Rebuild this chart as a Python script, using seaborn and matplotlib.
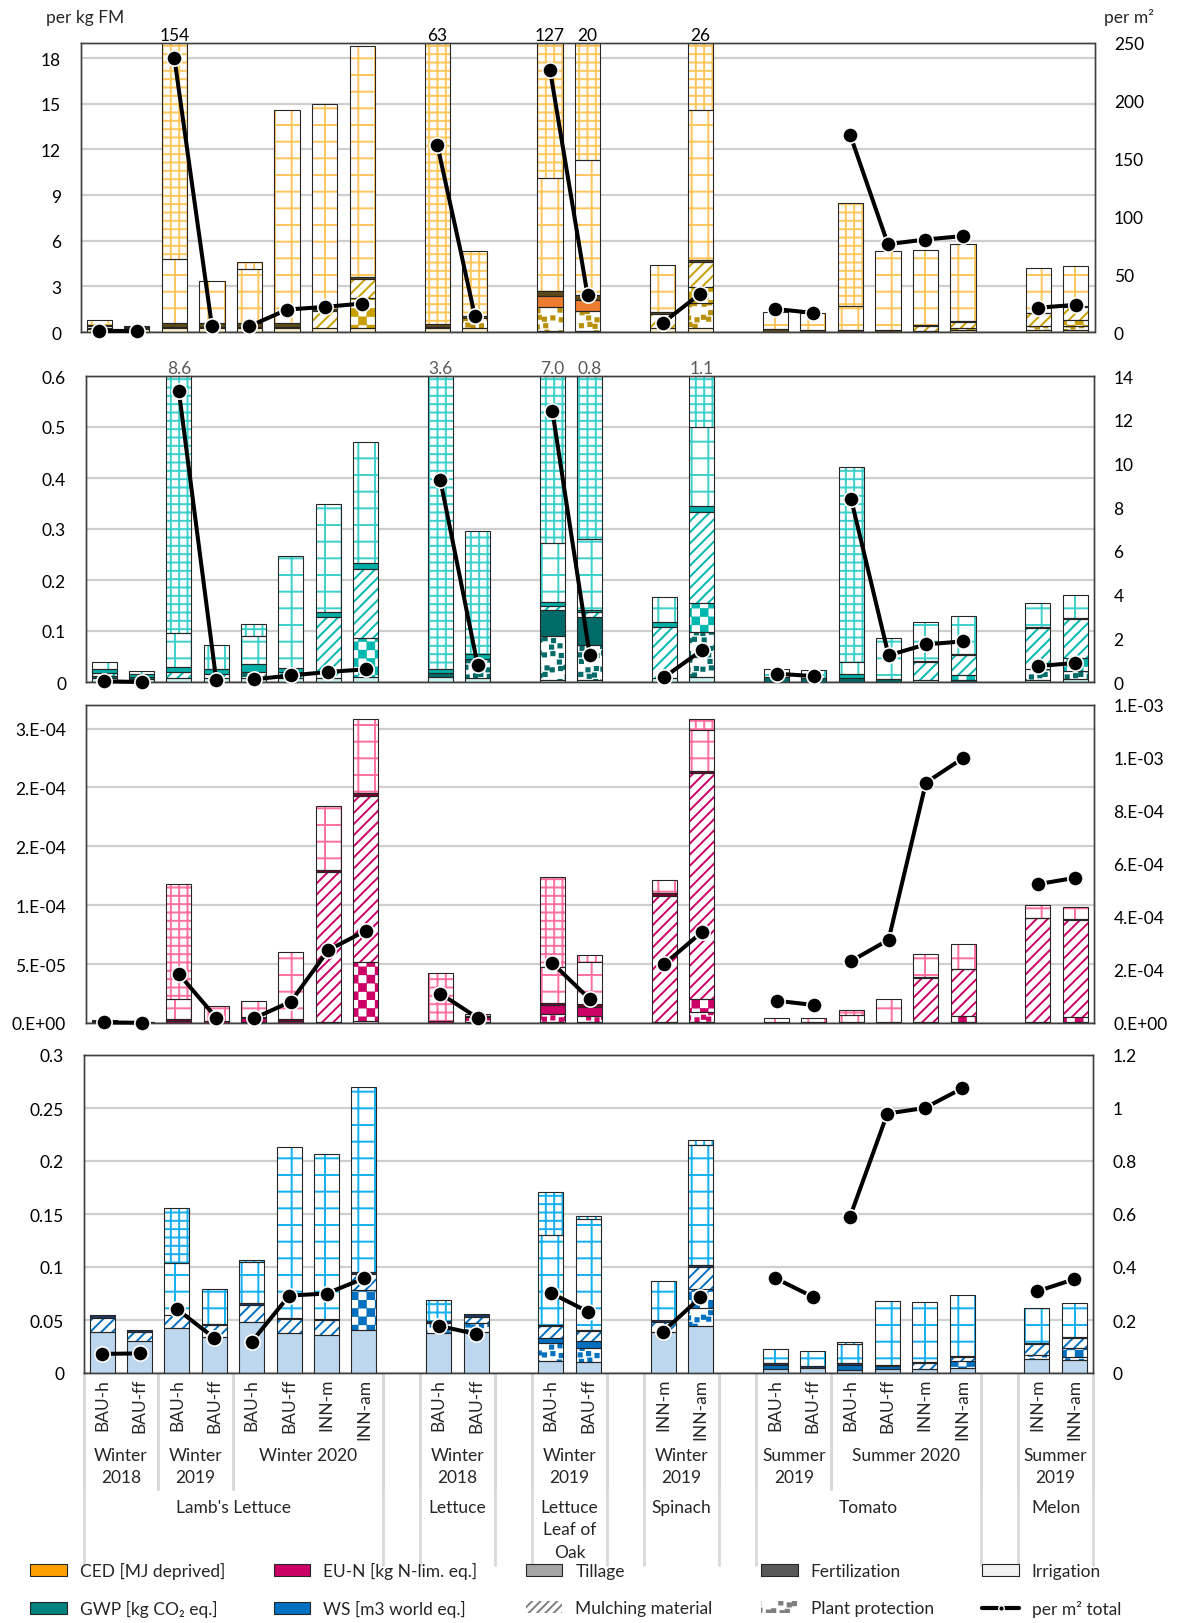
import numpy as np
import pandas as pd
import matplotlib
matplotlib.use("Agg")
import matplotlib.pyplot as plt
import matplotlib.hatch as mhatch
import matplotlib.transforms as mtransforms
from matplotlib.path import Path
from matplotlib.patches import Patch
from matplotlib.lines import Line2D
import seaborn as sns

# ------------------------------------------------------------------ data
treatments = ["BAU-h", "BAU-ff", "BAU-h", "BAU-ff", "BAU-h", "BAU-ff", "INN-m", "INN-am",
              "BAU-h", "BAU-ff", "BAU-h", "BAU-ff", "INN-m", "INN-am",
              "BAU-h", "BAU-ff", "BAU-h", "BAU-ff", "INN-m", "INN-am", "INN-m", "INN-am"]
seasons = (["Winter\n2018"] * 2 + ["Winter\n2019"] * 2 + ["Winter 2020"] * 4 +
           ["Winter\n2018"] * 2 + ["Winter\n2019"] * 2 + ["Winter\n2019"] * 2 +
           ["Summer\n2019"] * 2 + ["Summer 2020"] * 4 + ["Summer\n2019"] * 2)
crops = (["Lamb's Lettuce"] * 8 + ["Lettuce"] * 2 + ["Lettuce\nLeaf of\nOak"] * 2 +
         ["Spinach"] * 2 + ["Tomato"] * 6 + ["Melon"] * 2)

# CED [MJ deprived] per kg FM
ced_irr = [0.2, 0.2, 0.25, 0.25, 0.25, 0.25, 0.25, 0.25, 0.25, 0.25, 0.05, 0.05, 0.25, 0.25, 0, 0, 0, 0, 0.05, 0.1, 0.1, 0.1]
ced_pp = [0, 0, 0, 0, 0, 0, 0, 0, 0, 0.7, 1.58, 1.31, 0, 1.64, 0, 0, 0, 0, 0, 0, 0.3, 0.3]
ced_fert = [0.08, 0.08, 0.1, 0.1, 0.1, 0.1, 0, 0, 0.1, 0, 0.76, 0.74, 0, 0, 0, 0, 0, 0, 0, 0, 0, 0]
ced_chk = [0, 0, 0, 0, 0, 0, 0, 1.99, 0, 0, 0, 0, 0, 1.05, 0, 0, 0, 0, 0, 0.15, 0, 0.4]
ced_mul = [0.12, 0, 0, 0, 0, 0, 1.15, 1.26, 0, 0, 0, 0, 0.94, 1.66, 0, 0, 0, 0, 0.37, 0.39, 0.83, 0.83]
ced_till = [0.06, 0.04, 0.25, 0.25, 0.25, 0.23, 0.1, 0.12, 0.2, 0.12, 0.28, 0.3, 0.11, 0.15, 0.2, 0.12, 0.15, 0.1, 0.05, 0.06, 0.05, 0.05]
ced_big = [0.35, 0.1, 4.2, 2.74, 3.55, 14.02, 13.47, 15.15, 0, 0, 7.43, 8.9, 3.1, 9.85, 1.1, 1.13, 1.58, 5.2, 4.91, 5.08, 2.96, 2.67]
ced_small = [0, 0, 149.2, 0, 0.45, 0, 0, 0, 62.45, 4.27, 116.9, 8.7, 0, 11.4, 0, 0, 6.77, 0, 0, 0, 0, 0]
ced_m2 = [1.0, 0.8, 237, 5, 5, 19.4, 21.7, 24.6, 162, 14, 227, 32, 7.8, 33, 20, 16.5, 170, 76, 80, 83, 21, 23.5]

# GWP [kg CO2 eq.] per kg FM
gwp_irr = [0.008, 0.006, 0.008, 0.008, 0.008, 0.008, 0.008, 0.01, 0.01, 0.008, 0.003, 0.003, 0.008, 0.01, 0, 0, 0, 0, 0.003, 0, 0.003, 0.005]
gwp_pp = [0, 0, 0, 0, 0.012, 0, 0, 0, 0, 0.037, 0.087, 0.069, 0, 0.088, 0, 0, 0, 0, 0, 0, 0.022, 0.017]
gwp_fert = [0.004, 0.003, 0, 0, 0, 0, 0, 0, 0.008, 0, 0.052, 0.056, 0, 0, 0.01, 0.008, 0.008, 0.006, 0, 0.003, 0, 0]
gwp_chk = [0, 0, 0, 0, 0, 0, 0, 0.077, 0, 0, 0, 0, 0, 0.057, 0, 0, 0, 0, 0, 0.01, 0, 0.025]
gwp_mul = [0.006, 0, 0.012, 0.008, 0, 0.012, 0.119, 0.135, 0, 0, 0.008, 0.01, 0.1, 0.178, 0, 0, 0, 0, 0.037, 0.039, 0.081, 0.077]
gwp_till = [0.008, 0.006, 0.009, 0.01, 0.016, 0.008, 0.011, 0.011, 0.007, 0.01, 0.007, 0.004, 0.01, 0.012, 0, 0, 0.007, 0, 0.002, 0.002, 0.002, 0.002]
gwp_big = [0.014, 0.006, 0.067, 0.046, 0.054, 0.22, 0.211, 0.237, 0, 0, 0.116, 0.138, 0.049, 0.155, 0.015, 0.015, 0.025, 0.081, 0.075, 0.076, 0.047, 0.044]
gwp_small = [0, 0, 8.5, 0, 0.024, 0, 0, 0, 3.575, 0.242, 6.727, 0.52, 0, 0.6, 0, 0, 0.382, 0, 0, 0, 0, 0]
gwp_m2 = [0.03, 0.0, 13.3, 0.09, 0.12, 0.3, 0.46, 0.58, 9.24, 0.76, 12.4, 1.22, 0.23, 1.45, 0.38, 0.27, 8.35, 1.22, 1.72, 1.86, 0.73, 0.87]

# EU-N [kg N-lim. eq.] per kg FM, in units of 1e-5
EUN_UNIT = 1e-5
eun_irr = [0.05, 0.03, 0, 0, 0.1, 0, 0.1, 0.2, 0, 0.1, 0.1, 0.1, 0.1, 0.1, 0, 0, 0, 0, 0.1, 0.1, 0, 0]
eun_pp = [0, 0, 0, 0, 0, 0, 0, 0, 0, 0.4, 0.7, 0.5, 0, 0.8, 0, 0, 0, 0, 0, 0, 0, 0]
eun_fert = [0.1, 0.05, 0.2, 0.2, 0.3, 0.2, 0, 0, 0.2, 0, 0.7, 0.8, 0, 0, 0.1, 0.1, 0.1, 0.05, 0, 0, 0.1, 0.1]
eun_chk = [0, 0, 0, 0, 0, 0, 0, 5.0, 0, 0, 0, 0, 0, 1.1, 0, 0, 0, 0, 0, 0.5, 0, 0.4]
eun_mul = [0, 0, 0, 0, 0.1, 0, 12.7, 14.1, 0, 0, 0, 0, 10.7, 19.2, 0, 0, 0, 0, 3.7, 3.95, 8.8, 8.25]
eun_till = [0, 0, 0.1, 0, 0, 0.1, 0.2, 0.2, 0, 0.1, 0.2, 0.2, 0.2, 0.2, 0, 0, 0, 0, 0.1, 0.05, 0.05, 0.05]
eun_big = [0.08, 0.02, 1.7, 1.21, 1.34, 5.7, 5.45, 6.35, 0, 0, 3.05, 3.6, 1.1, 3.5, 0.32, 0.32, 0.6, 2.01, 1.98, 2.12, 1.11, 1.03]
eun_small = [0, 0, 9.8, 0, 0, 0, 0, 0, 4.07, 0.2, 7.65, 0.6, 0, 0.95, 0, 0, 0.37, 0, 0, 0, 0, 0]
# per m2, in units of 1e-4
EUN_M2_UNIT = 1e-4
eun_m2 = [0.02, 0.01, 1.85, 0.2, 0.17, 0.81, 2.75, 3.48, 1.11, 0.19, 2.26, 0.9, 2.23, 3.43, 0.84, 0.68, 2.34, 3.14, 9.07, 10.0, 5.24, 5.48]

# WS [m3 world eq.] per kg FM
ws_irr = [0.039, 0.0305, 0.0427, 0.034, 0.048, 0.038, 0.036, 0.041, 0.038, 0.039, 0.011, 0.01, 0.039, 0.044, 0.0035, 0.005, 0.003, 0.004, 0.004, 0.005, 0.013, 0.012]
ws_pp = [0, 0, 0, 0, 0, 0, 0, 0, 0.009, 0.008, 0.017, 0.014, 0, 0.017, 0, 0, 0, 0, 0, 0, 0.004, 0.003]
ws_fert = [0, 0, 0, 0, 0, 0, 0, 0, 0, 0, 0.005, 0.006, 0, 0, 0.0045, 0, 0.005, 0.003, 0, 0, 0, 0]
ws_chk = [0, 0, 0, 0, 0, 0, 0, 0.037, 0, 0, 0, 0, 0, 0.018, 0, 0, 0, 0, 0, 0.006, 0, 0.009]
ws_mul = [0.013, 0.0085, 0.0123, 0.011, 0.016, 0.013, 0.014, 0.015, 0, 0.006, 0.011, 0.01, 0.009, 0.021, 0, 0, 0, 0, 0.005, 0.004, 0.01, 0.009]
ws_till = [0.0027, 0.0015, 0, 0.001, 0.002, 0.001, 0.001, 0.002, 0.002, 0.0026, 0.001, 0.001, 0.002, 0.002, 0.001, 0.002, 0.001, 0.001, 0.001, 0.001, 0.001, 0.001]
ws_big = [0, 0, 0.049, 0.033, 0.039, 0.1616, 0.1554, 0.175, 0, 0, 0.085, 0.104, 0.037, 0.113, 0.0136, 0.0134, 0.018, 0.06, 0.0566, 0.058, 0.033, 0.0317]
ws_small = [0, 0, 0.052, 0, 0.0015, 0, 0, 0, 0.02, 0, 0.041, 0.003, 0, 0.005, 0, 0, 0.002, 0, 0, 0, 0, 0]
ws_m2 = [0.072, 0.074, 0.241, 0.132, 0.118, 0.292, 0.3, 0.357, 0.178, 0.147, 0.302, 0.231, 0.156, 0.285, 0.358, 0.288, 0.589, 0.979, 1.0, 1.074, 0.308, 0.354]

legend_labels = ["CED [MJ deprived]", "GWP [kg CO\u2082 eq.]", "EU-N [kg N-lim. eq.]", "WS [m3 world eq.]",
                 "Tillage", "Mulching material", "Fertilization", "Plant protection",
                 "Irrigation", "per m\u00b2 total"]

# ------------------------------------------------------------------ custom square hatches ('o' checker, '.' confetti)
class SquareHatch(mhatch.HatchPatternBase):
    def __init__(self, hatch, density):
        cells = []
        if 'o' in hatch:
            n = 12
            s = 1.0 / n
            for i in range(n):
                for j in range(n):
                    if (i + j) % 2 == 0:
                        cells.append((i * s + 0.008, j * s + 0.008, s - 0.016))
        if '.' in hatch:
            n = 14
            s = 1.0 / n
            for i in range(n):
                for j in range(n):
                    if (i * 3 + j * 5) % 7 in (0, 2, 3, 5, 6):
                        ox = ((i * 7 + j * 3) % 5) / 5.0 * 0.45 * s
                        oy = ((i * 2 + j * 9) % 5) / 5.0 * 0.45 * s
                        cells.append((i * s + ox, j * s + oy, 0.032))
        self.cells = cells
        self.num_vertices = 5 * len(cells)

    def set_vertices_and_codes(self, vertices, codes):
        for k, (x, y, s) in enumerate(self.cells):
            vertices[5 * k:5 * k + 5] = [(x, y), (x + s, y), (x + s, y + s), (x, y + s), (x, y)]
            codes[5 * k:5 * k + 5] = [Path.MOVETO, Path.LINETO, Path.LINETO, Path.LINETO, Path.CLOSEPOLY]


mhatch._hatch_types[:] = [mhatch.HorizontalHatch, mhatch.VerticalHatch,
                          mhatch.NorthEastHatch, mhatch.SouthEastHatch, SquareHatch]

# ------------------------------------------------------------------ style
sns.set_theme(style="white")
plt.rcParams['font.family'] = ['Lato', 'DejaVu Sans']
plt.rcParams['hatch.linewidth'] = 1.4
FS = 12.5

W, H = 1179, 1624
fig = plt.figure(figsize=(W / 100, H / 100), dpi=100)

# slot positions: one empty slot between crops
pos = []
slot = 0
prev = None
for c in crops:
    if prev is not None and c != prev:
        slot += 1
    pos.append(slot)
    slot += 1
    prev = c
pos = np.array(pos, float)
NSLOT = slot
groups = []
g = 0
for i in range(len(crops)):
    if i > 0 and (crops[i] != crops[i - 1] or seasons[i] != seasons[i - 1]):
        g += 1
    groups.append(g)

SEGS = ['irr', 'pp', 'fert', 'chk', 'mul', 'till', 'big', 'small']
HATCH = {'irr': None, 'pp': '.', 'fert': None, 'chk': 'o', 'mul': '///', 'till': None, 'big': '+', 'small': '++'}
BW = 0.67

pal_ced = dict(light='#FFF2CC', dots='#B8900A', chk='#C9A000', hatch='#C9A000', fert='#ED7D31', till='#5C4A1A', grid='#FFC65C')
pal_gwp = dict(light='#CDF3F1', dots='#006B68', chk='#00B8B0', hatch='#00B8B0', fert='#006B68', till='#00B0A8', grid='#3CD0CC')
pal_eun = dict(light='#FFE0EC', dots='#CC0066', chk='#CC0066', hatch='#CC0066', fert='#CC0066', till='#7A0030', grid='#FF6F9F')
pal_ws = dict(light='#BDD7EE', dots='#0070C0', chk='#0070C0', hatch='#0070C0', fert='#0070C0', till='#1F3864', grid='#12B0F0')


def seg_style(key, pal):
    if key == 'irr':
        return pal['light'], pal['light']
    if key == 'pp':
        return 'white', pal['dots']
    if key == 'fert':
        return pal['fert'], pal['fert']
    if key == 'chk':
        return 'white', pal['chk']
    if key == 'mul':
        return 'white', pal['hatch']
    if key == 'till':
        return pal['till'], pal['till']
    return 'white', pal['grid']


def make_axes(l, r, t, b):
    return fig.add_axes([l / W, 1 - b / H, (r - l) / W, (b - t) / H])


def draw_panel(ax, segs, pal, scale=1.0):
    bottom = np.zeros(len(pos))
    for key in SEGS:
        h = np.asarray(segs[key], float) * scale
        m = h > 0
        face, hc = seg_style(key, pal)
        ax.bar(pos[m], h[m], bottom=bottom[m], width=BW, color=face, edgecolor=hc,
               hatch=HATCH[key], linewidth=0, zorder=2)
        ax.bar(pos[m], h[m], bottom=bottom[m], width=BW, fill=False,
               edgecolor='#262626', linewidth=0.8, zorder=3)
        bottom += h
    return bottom


def excel_sci(v, _=None):
    if abs(v) < 1e-15:
        return '0.E+00'
    e = int(np.floor(np.log10(abs(v)) + 1e-9))
    m = round(v / 10 ** e, 6)
    mi = int(np.floor(m + 0.5))
    if mi >= 10:
        mi //= 10
        e += 1
    return f"{mi}.E{e:+03d}"


def plain(v, _=None):
    return f"{v:g}"


def setup(ax, ax2, ylim, yticks, y2lim, y2ticks, fmt):
    ax.set_xlim(-0.5, NSLOT - 0.5)
    ax.set_ylim(*ylim)
    ax.set_yticks(yticks)
    ax.yaxis.set_major_formatter(matplotlib.ticker.FuncFormatter(fmt))
    ax.set_xticks([])
    ax.grid(axis='y', color='#CFCFCF', linewidth=1.6)
    ax.set_axisbelow(True)
    ax.tick_params(axis='y', length=0, pad=14, labelsize=FS, colors='black')
    ax2.set_ylim(*y2lim)
    ax2.set_yticks(y2ticks)
    ax2.yaxis.set_major_formatter(matplotlib.ticker.FuncFormatter(fmt))
    ax2.tick_params(axis='y', length=0, pad=14, labelsize=FS, colors='black')
    ax2.grid(False)
    for a in (ax, ax2):
        for s in a.spines.values():
            s.set_color('#404040')
            s.set_linewidth(1.0)
    ax.set_xlabel('')
    ax2.set_ylabel('')
    ax.set_ylabel('')


def draw_line(ax2, vals, scale=1.0):
    df = pd.DataFrame({'x': pos, 'y': np.asarray(vals, float) * scale, 'g': groups})
    sns.lineplot(data=df, x='x', y='y', units='g', estimator=None, sort=False, color='black',
                 linewidth=2.9, marker='o', markersize=11, markeredgecolor='white',
                 markeredgewidth=1.2, ax=ax2, legend=False, clip_on=False, zorder=5)
    ax2.set_xlabel('')
    ax2.set_ylabel('')


def top_labels(ax, totals, fmt, color):
    tr = mtransforms.blended_transform_factory(ax.transData, ax.transAxes)
    top = ax.get_ylim()[1]
    for x, t in zip(pos, totals):
        if t > top:
            ax.text(x, 1.0, fmt(t), transform=tr, ha='center', va='bottom',
                    fontsize=FS, color=color)


# ---- panel 1: CED
ax1 = make_axes(80.5, 1094.5, 44, 333)
ax1b = ax1.twinx()
tot = draw_panel(ax1, dict(irr=ced_irr, pp=ced_pp, fert=ced_fert, chk=ced_chk, mul=ced_mul,
                           till=ced_till, big=ced_big, small=ced_small), pal_ced)
draw_line(ax1b, ced_m2)
setup(ax1, ax1b, (0, 19), np.arange(0, 19, 3), (0, 250), np.arange(0, 251, 50), plain)
top_labels(ax1, tot, lambda t: f"{t:.0f}", 'black')

# ---- panel 2: GWP
ax2 = make_axes(85.5, 1094, 377, 683)
ax2b = ax2.twinx()
tot = draw_panel(ax2, dict(irr=gwp_irr, pp=gwp_pp, fert=gwp_fert, chk=gwp_chk, mul=gwp_mul,
                           till=gwp_till, big=gwp_big, small=gwp_small), pal_gwp)
draw_line(ax2b, gwp_m2)
setup(ax2, ax2b, (0, 0.6), np.arange(0, 0.61, 0.1), (0, 14), np.arange(0, 15, 2), plain)
top_labels(ax2, tot, lambda t: f"{t:.1f}", '#595959')

# ---- panel 3: EU-N
ax3 = make_axes(85.5, 1094, 706, 1024)
ax3b = ax3.twinx()
draw_panel(ax3, dict(irr=eun_irr, pp=eun_pp, fert=eun_fert, chk=eun_chk, mul=eun_mul,
                     till=eun_till, big=eun_big, small=eun_small), pal_eun, scale=EUN_UNIT)
draw_line(ax3b, eun_m2, scale=EUN_M2_UNIT)
setup(ax3, ax3b, (0, 2.7e-4), np.arange(0, 2.6e-4, 5e-5), (0, 1.2e-3), np.arange(0, 1.21e-3, 2e-4), excel_sci)

# ---- panel 4: WS
ax4 = make_axes(83.5, 1093, 1056, 1374)
ax4b = ax4.twinx()
draw_panel(ax4, dict(irr=ws_irr, pp=ws_pp, fert=ws_fert, chk=ws_chk, mul=ws_mul,
                     till=ws_till, big=ws_big, small=ws_small), pal_ws)
draw_line(ax4b, ws_m2)
setup(ax4, ax4b, (0, 0.3), np.arange(0, 0.301, 0.05), (0, 1.2), np.arange(0, 1.21, 0.2), plain)

# ---- unit labels
fig.text(46 / W, 1 - 18 / H, "per kg FM", ha='left', va='center', fontsize=FS)
fig.text(1104 / W, 1 - 18 / H, "per m\u00b2", ha='left', va='center', fontsize=FS)

# ---- multi-level category axis under panel 4
trx = mtransforms.blended_transform_factory(ax4.transData, fig.transFigure)
y_axis = 1 - 1374 / H
for x, t in zip(pos, treatments):
    ax4.text(x, 1 - 1379 / H, t, transform=trx, rotation=90, ha='center', va='top',
             fontsize=FS, clip_on=False)

def runs(labels):
    out = []
    start = 0
    for i in range(1, len(labels) + 1):
        if i == len(labels) or labels[i] != labels[start] or crops[i] != crops[start]:
            out.append((start, i - 1, labels[start]))
            start = i
    return out

for a, b, lab in runs(seasons):
    ax4.text((pos[a] + pos[b]) / 2, 1 - 1448 / H, lab, transform=trx, ha='center', va='top',
             fontsize=FS, linespacing=1.5, clip_on=False)
    ax4.plot([pos[a] - 0.5] * 2, [y_axis, 1 - 1490 / H], transform=trx, color='#D9D9D9',
             lw=2, clip_on=False, zorder=0)
    ax4.plot([pos[b] + 0.5] * 2, [y_axis, 1 - 1490 / H], transform=trx, color='#D9D9D9',
             lw=2, clip_on=False, zorder=0)
for a, b, lab in runs(crops):
    ax4.text((pos[a] + pos[b]) / 2, 1 - 1500 / H, lab, transform=trx, ha='center', va='top',
             fontsize=FS, linespacing=1.5, clip_on=False)
    for xx in (pos[a] - 0.5, pos[b] + 0.5):
        ax4.plot([xx, xx], [y_axis, 1 - 1566 / H], transform=trx, color='#D9D9D9',
                 lw=2, clip_on=False, zorder=0)

# ---- legend
handles = [
    Patch(facecolor='#FFA000', edgecolor='#262626', lw=0.8),
    Patch(facecolor='#00827F', edgecolor='#262626', lw=0.8),
    Patch(facecolor='#CC0066', edgecolor='#262626', lw=0.8),
    Patch(facecolor='#0070C0', edgecolor='#262626', lw=0.8),
    Patch(facecolor='#A6A6A6', edgecolor='#262626', lw=0.8),
    Patch(facecolor='white', edgecolor='#7F7F7F', hatch='////', lw=0),
    Patch(facecolor='#595959', edgecolor='#262626', lw=0.8),
    Patch(facecolor='white', edgecolor='#7F7F7F', hatch='.', lw=0),
    Patch(facecolor='#F2F2F2', edgecolor='#262626', lw=0.8),
    Line2D([], [], color='black', lw=3, marker='o', markersize=4, markerfacecolor='black',
           markeredgecolor='white'),
]
fig.legend(handles, legend_labels, ncol=5, loc='upper left',
           bbox_to_anchor=(18 / W, 1 - 1551 / H), frameon=False, fontsize=FS,
           handlelength=2.1, handleheight=0.75, handletextpad=0.75, columnspacing=2.8,
           labelspacing=1.2, borderpad=0.2)

fig.savefig("out.png", dpi=100)
